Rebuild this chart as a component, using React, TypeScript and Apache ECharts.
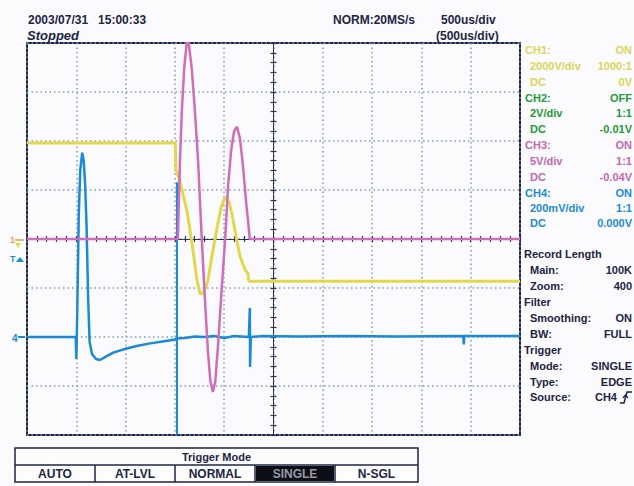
import React, { useEffect, useRef } from 'react';
import * as echarts from 'echarts';

// Trace data in screen divisions (x: -5..5, y: -4..4)
const ch1Yellow: number[][] = [
  [-5, 1.96], [-1.99, 1.96], [-1.98, 1.41], [-1.92, 1.25], [-1.86, 1.02], [-1.75, 0.55],
  [-1.63, -0.25], [-1.55, -0.85], [-1.49, -1.12], [-1.42, -1.1], [-1.33, -0.85], [-1.24, -0.3],
  [-1.15, 0.2], [-1.06, 0.65], [-0.98, 0.86], [-0.9, 0.75], [-0.84, 0.5], [-0.76, 0.05],
  [-0.68, -0.35], [-0.58, -0.62], [-0.52, -0.7], [-0.5, -0.86], [5, -0.86],
];
const ch3Magenta: number[][] = [
  [-5, 0], [-1.94, 0], [-1.9, 1.5], [-1.86, 2.6], [-1.81, 3.5], [-1.76, 4.0], [-1.72, 4.0],
  [-1.66, 3.5], [-1.6, 2.7], [-1.53, 1.6], [-1.46, 0.1], [-1.39, -1.25], [-1.33, -2.3],
  [-1.28, -2.9], [-1.23, -3.12], [-1.18, -2.9], [-1.12, -2.1], [-1.05, -1.0], [-0.98, 0],
  [-0.92, 1.1], [-0.86, 1.8], [-0.8, 2.2], [-0.74, 2.29], [-0.68, 2.05], [-0.62, 1.5],
  [-0.55, 0.7], [-0.48, 0], [5, 0],
];
const ch4Blue: number[][] = [
  [-5, -2.0], [-4.01, -2.0], [-4.0, -2.45], [-3.99, -2.0], [-3.97, -0.8], [-3.95, 0.5],
  [-3.92, 1.4], [-3.88, 1.76], [-3.85, 1.6], [-3.82, 1.1], [-3.79, 0.2], [-3.76, -1.2],
  [-3.73, -2.1], [-3.68, -2.35], [-3.6, -2.45], [-3.52, -2.47], [-3.4, -2.4], [-3.25, -2.32],
  [-3.0, -2.24], [-2.75, -2.18], [-2.5, -2.13], [-2.25, -2.09], [-2.0, -2.05], [-1.97, -2.03],
  [-1.8, -2.02], [-1.6, -1.99], [-1.4, -2.0], [-1.2, -1.98], [-1.0, -2.02], [-0.8, -1.98],
  [-0.5, -2.0], [-0.48, -1.41], [-0.475, -2.61], [-0.46, -2.0], [-0.2, -1.98], [0.5, -1.99],
  [1.5, -1.98], [2.5, -1.99], [3.85, -1.98], [3.86, -2.15], [3.87, -1.98], [5, -1.98],
];
const triggerCursor: number[][] = [[-1.97, 1.16], [-1.97, -4]];

const headerTexts = ['2003/07/31   15:00:33', 'Stopped', 'NORM:20MS/s', '500us/div', '(500us/div)'];

const panelLabels = [
  'CH1:', '2000V/div', 'DC', 'CH2:', '2V/div', 'DC', 'CH3:', '5V/div', 'DC', 'CH4:', '200mV/div', 'DC',
  'Record Length', 'Main:', 'Zoom:', 'Filter', 'Smoothing:', 'BW:', 'Trigger', 'Mode:', 'Type:', 'Source:',
];
const panelValues = [
  'ON', '1000:1', '0V', 'OFF', '1:1', '-0.01V', 'ON', '1:1', '-0.04V', 'ON', '1:1', '0.000V',
  '', '100K', '400', '', 'ON', 'FULL', '', 'SINGLE', 'EDGE', 'CH4',
];
const panelGroup = ['ch1', 'ch1', 'ch1', 'ch2', 'ch2', 'ch2', 'ch3', 'ch3', 'ch3', 'ch4', 'ch4', 'ch4',
  'h', 's', 's', 'h', 's', 's', 'h', 's', 's', 's'];
const panelY = [50, 66, 82, 98, 113, 129, 145, 161, 177, 193, 208, 223, 254, 270, 286, 302, 318, 334, 350, 366, 382, 397];

const modeButtons = ['AUTO', 'AT-LVL', 'NORMAL', 'SINGLE', 'N-SGL'];
const modeSelected = 'SINGLE';

const C = {
  yellow: '#e2d84c',
  yellowText: '#dcd45a',
  magenta: '#d06cb8',
  magentaText: '#c466b0',
  blue: '#1a8ad6',
  green: '#1f9a3a',
  navy: '#1d2446',
  grid: '#7d9bc4',
  bg: '#fbfbfd',
};

const FONT = '"Liberation Sans", Arial, sans-serif';

export default function App() {
  const ref = useRef<HTMLDivElement>(null);
  useEffect(() => {
    if (!ref.current) return;
    const chart = echarts.init(ref.current, undefined, { renderer: 'svg' });

    const groupColor: Record<string, string> = {
      ch1: C.yellowText, ch2: C.green, ch3: C.magentaText, ch4: C.blue, h: C.navy, s: C.navy,
    };
    const groupX = (g: string, i: number) => {
      if (g === 'h') return 524;
      if (g === 's') return 530;
      return i % 3 === 0 ? 525 : 530;
    };

    const graphics: any[] = [];
    const hdr = [
      { t: headerTexts[0], x: 28, y: 20, italic: false, size: 12 },
      { t: headerTexts[1], x: 27, y: 35, italic: true, size: 13 },
      { t: headerTexts[2], x: 333, y: 20, italic: false, size: 12 },
      { t: headerTexts[3], x: 441, y: 20, italic: false, size: 12 },
      { t: headerTexts[4], x: 436, y: 36, italic: false, size: 12 },
    ];
    hdr.forEach((h) => {
      graphics.push({
        type: 'text', x: h.x, y: h.y, z: 10,
        style: {
          text: h.t, fill: C.navy, align: 'left', verticalAlign: 'middle',
          font: `${h.italic ? 'italic ' : ''}bold ${h.size}px ${FONT}`,
        },
      });
    });

    panelLabels.forEach((lab, i) => {
      const g = panelGroup[i];
      graphics.push({
        type: 'text', x: groupX(g, i), y: panelY[i], z: 10,
        style: { text: lab, fill: groupColor[g], align: 'left', verticalAlign: 'middle', font: `bold 11px ${FONT}` },
      });
      if (panelValues[i]) {
        const isSource = lab === 'Source:';
        graphics.push({
          type: 'text', x: isSource ? 617 : 632, y: panelY[i], z: 10,
          style: { text: panelValues[i], fill: groupColor[g], align: 'right', verticalAlign: 'middle', font: `bold 11px ${FONT}` },
        });
      }
    });
    graphics.push({
      type: 'polyline', z: 10,
      shape: { points: [[620, 403], [624, 403], [627, 392], [632, 392]] },
      style: { stroke: C.navy, lineWidth: 1.5, fill: 'none' },
    });
    graphics.push({
      type: 'polyline', z: 10,
      shape: { points: [[623, 398], [625.5, 395], [628, 398]] },
      style: { stroke: C.navy, lineWidth: 1.2, fill: 'none' },
    });

    // left markers
    graphics.push({
      type: 'text', x: 10, y: 240, z: 10,
      style: { text: '1', fill: '#e0a050', align: 'left', verticalAlign: 'middle', font: `bold 9px ${FONT}` },
    });
    graphics.push({
      type: 'polygon', z: 10,
      shape: { points: [[15, 243], [21, 243], [18, 248]] },
      style: { fill: C.yellow },
    });
    graphics.push({
      type: 'polyline', z: 10,
      shape: { points: [[15, 240], [24, 240]] },
      style: { stroke: '#e0a050', lineWidth: 1.5 },
    });
    graphics.push({
      type: 'text', x: 10, y: 259, z: 10,
      style: { text: 'T', fill: C.blue, align: 'left', verticalAlign: 'middle', font: `bold 9px ${FONT}` },
    });
    graphics.push({
      type: 'polygon', z: 10,
      shape: { points: [[16, 262], [24, 262], [20, 257]] },
      style: { fill: C.blue },
    });
    graphics.push({
      type: 'text', x: 12, y: 338, z: 10,
      style: { text: '4', fill: C.blue, align: 'left', verticalAlign: 'middle', font: `bold 10px ${FONT}` },
    });
    graphics.push({
      type: 'polyline', z: 10,
      shape: { points: [[18, 337], [25, 337]] },
      style: { stroke: C.blue, lineWidth: 2 },
    });

    // bottom trigger mode panel
    const bx0 = 15, bx1 = 418, by0 = 448, by1 = 465, by2 = 482;
    graphics.push({
      type: 'rect', z: 5, shape: { x: bx0, y: by0, width: bx1 - bx0, height: by2 - by0 },
      style: { fill: '#fdfdfd', stroke: C.navy, lineWidth: 1.5 },
    });
    graphics.push({
      type: 'text', x: (bx0 + bx1) / 2, y: (by0 + by1) / 2 + 0.5, z: 10,
      style: { text: 'Trigger Mode', fill: C.navy, align: 'center', verticalAlign: 'middle', font: `bold 11px ${FONT}` },
    });
    graphics.push({
      type: 'line', z: 6, shape: { x1: bx0, y1: by1, x2: bx1, y2: by1 },
      style: { stroke: C.navy, lineWidth: 1.5 },
    });
    const colX = [15, 95, 175, 255, 335, 418];
    modeButtons.forEach((b, i) => {
      const sel = b === modeSelected;
      if (sel) {
        graphics.push({
          type: 'rect', z: 6, shape: { x: colX[i] + 1, y: by1 + 1, width: colX[i + 1] - colX[i] - 2, height: by2 - by1 - 2 },
          style: { fill: '#0e0e16' },
        });
      }
      if (i > 0) {
        graphics.push({
          type: 'line', z: 6, shape: { x1: colX[i], y1: by1, x2: colX[i], y2: by2 },
          style: { stroke: C.navy, lineWidth: 1.5 },
        });
      }
      graphics.push({
        type: 'text', x: (colX[i] + colX[i + 1]) / 2, y: (by1 + by2) / 2 + 0.5, z: 10,
        style: { text: b, fill: sel ? '#9a9aa6' : C.navy, align: 'center', verticalAlign: 'middle', font: `bold 12px ${FONT}` },
      });
    });

    const centerAxisLine = { show: true, onZero: true, lineStyle: { color: '#2b3656', width: 1 } };
    const hiddenLabel = { show: false };
    const tickStyle = { color: '#2b3656', width: 1.2 };

    chart.setOption({
      animation: false,
      backgroundColor: C.bg,
      grid: {
        left: 27, top: 43, width: 493, height: 392, show: true,
        borderColor: C.navy, borderWidth: 2, backgroundColor: 'transparent', containLabel: false,
      },
      xAxis: [
        {
          type: 'value', min: -5, max: 5, interval: 1,
          axisLine: centerAxisLine,
          axisTick: { show: true, inside: false, length: 3, lineStyle: tickStyle },
          minorTick: { show: true, splitNumber: 5, length: 3, lineStyle: tickStyle },
          axisLabel: hiddenLabel,
          splitLine: { show: true, lineStyle: { color: C.grid, width: 1.5, type: [1.5, 3] } },
        },
        {
          type: 'value', min: -5, max: 5, interval: 1, position: 'top',
          axisLine: centerAxisLine,
          axisTick: { show: true, inside: false, length: 3, lineStyle: tickStyle },
          minorTick: { show: true, splitNumber: 5, length: 3, lineStyle: tickStyle },
          axisLabel: hiddenLabel,
          splitLine: { show: false },
        },
      ],
      yAxis: [
        {
          type: 'value', min: -4, max: 4, interval: 1,
          axisLine: centerAxisLine,
          axisTick: { show: true, inside: false, length: 3, lineStyle: tickStyle },
          minorTick: { show: true, splitNumber: 5, length: 3, lineStyle: tickStyle },
          axisLabel: hiddenLabel,
          splitLine: { show: true, lineStyle: { color: C.grid, width: 1.5, type: [1.5, 3] } },
        },
        {
          type: 'value', min: -4, max: 4, interval: 1, position: 'right',
          axisLine: centerAxisLine,
          axisTick: { show: true, inside: false, length: 3, lineStyle: tickStyle },
          minorTick: { show: true, splitNumber: 5, length: 3, lineStyle: tickStyle },
          axisLabel: hiddenLabel,
          splitLine: { show: false },
        },
      ],
      graphic: graphics,
      series: [
        {
          name: 'CH4', type: 'line', data: ch4Blue, showSymbol: false, z: 3,
          lineStyle: { color: C.blue, width: 2.5 },
          markLine: {
            silent: true, symbol: 'none', label: { show: false },
            lineStyle: { color: C.blue, width: 2, type: 'solid' },
            data: [[{ coord: triggerCursor[0] }, { coord: triggerCursor[1] }]],
          },
        },
        {
          name: 'CH1', type: 'line', data: ch1Yellow, showSymbol: false, z: 4,
          lineStyle: { color: C.yellow, width: 3 },
        },
        {
          name: 'CH3', type: 'line', data: ch3Magenta, showSymbol: false, z: 5,
          lineStyle: { color: C.magenta, width: 2.5 },
        },
      ],
    });
    return () => chart.dispose();
  }, []);

  return (
    <div
      ref={ref}
      style={{ position: 'fixed', left: 0, top: 0, width: 634, height: 486, background: C.bg }}
    />
  );
}
